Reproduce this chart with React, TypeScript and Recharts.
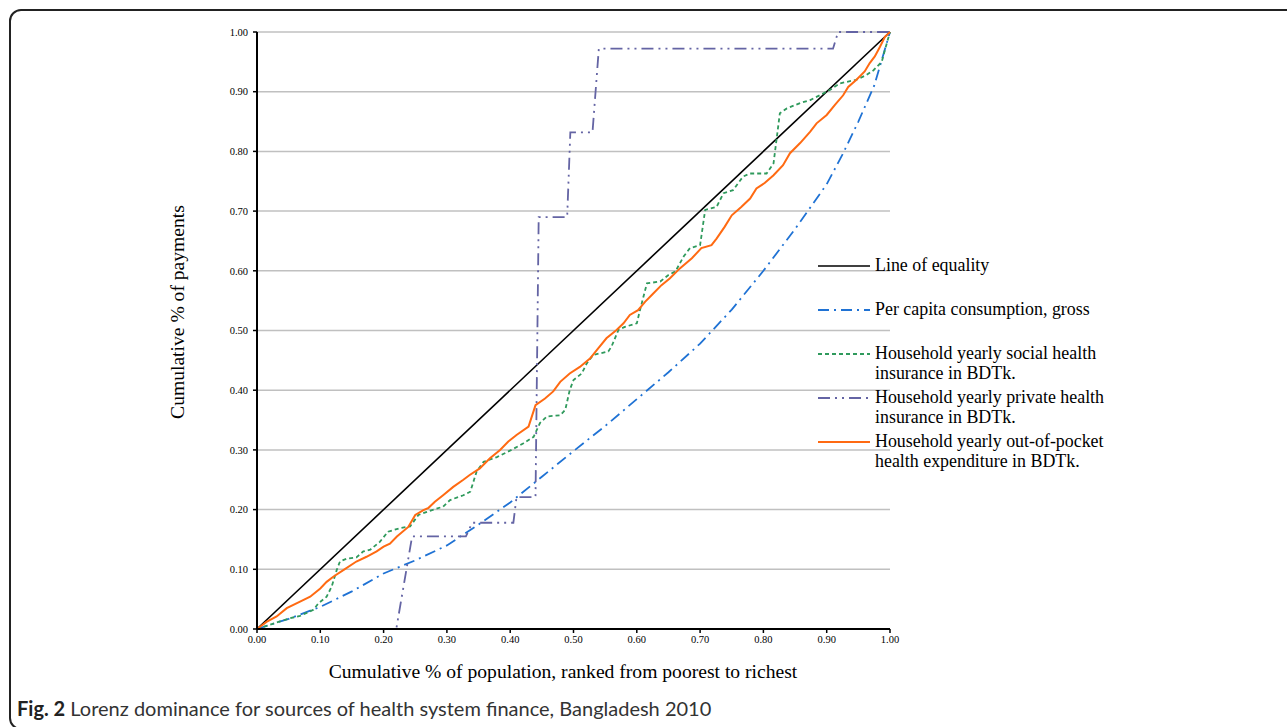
import React from 'react';
import { LineChart, Line, XAxis, YAxis, CartesianGrid } from 'recharts';

const axisTicks = [0, 0.1, 0.2, 0.3, 0.4, 0.5, 0.6, 0.7, 0.8, 0.9, 1.0];

const equalityX = [0, 1];
const equalityY = [0, 1];

const consumptionX = [0, 0.05, 0.1, 0.15, 0.2, 0.25, 0.3, 0.35, 0.4, 0.45, 0.5, 0.55, 0.6, 0.65, 0.7, 0.75, 0.8, 0.85, 0.9, 0.925, 0.95, 0.975, 1];
const consumptionY = [0, 0.017, 0.037, 0.063, 0.093, 0.115, 0.14, 0.175, 0.212, 0.255, 0.298, 0.34, 0.385, 0.43, 0.478, 0.535, 0.6, 0.67, 0.745, 0.795, 0.85, 0.91, 1];

const socialX = [0, 0.031, 0.052, 0.068, 0.089, 0.097, 0.11, 0.118, 0.126, 0.131, 0.142, 0.157, 0.168, 0.179, 0.194, 0.207, 0.226, 0.242, 0.255, 0.273, 0.294, 0.305, 0.326, 0.337, 0.347, 0.358, 0.379, 0.402, 0.421, 0.437, 0.447, 0.458, 0.479, 0.487, 0.494, 0.5, 0.513, 0.521, 0.531, 0.555, 0.56, 0.571, 0.581, 0.6, 0.605, 0.616, 0.637, 0.65, 0.661, 0.674, 0.684, 0.7, 0.708, 0.726, 0.737, 0.752, 0.768, 0.779, 0.805, 0.816, 0.826, 0.837, 0.858, 0.874, 0.889, 0.905, 0.921, 0.947, 0.963, 0.974, 0.987, 0.992, 1];
const socialY = [0, 0.011, 0.018, 0.022, 0.032, 0.043, 0.054, 0.071, 0.099, 0.113, 0.118, 0.12, 0.13, 0.133, 0.146, 0.163, 0.169, 0.172, 0.191, 0.198, 0.205, 0.216, 0.224, 0.23, 0.264, 0.28, 0.288, 0.3, 0.311, 0.322, 0.345, 0.356, 0.358, 0.367, 0.4, 0.417, 0.428, 0.445, 0.459, 0.465, 0.473, 0.501, 0.506, 0.512, 0.534, 0.579, 0.582, 0.593, 0.599, 0.624, 0.638, 0.643, 0.702, 0.707, 0.73, 0.735, 0.758, 0.763, 0.763, 0.78, 0.864, 0.872, 0.881, 0.886, 0.894, 0.903, 0.914, 0.92, 0.928, 0.936, 0.95, 0.97, 1];

const privateX = [0, 0.22, 0.245, 0.33, 0.34, 0.405, 0.41, 0.44, 0.445, 0.49, 0.495, 0.53, 0.54, 0.91, 0.918, 1];
const privateY = [0, 0, 0.155, 0.155, 0.178, 0.178, 0.221, 0.221, 0.69, 0.69, 0.832, 0.832, 0.972, 0.972, 1, 1];

const oopX = [0, 0.015, 0.031, 0.047, 0.068, 0.084, 0.1, 0.11, 0.121, 0.137, 0.157, 0.173, 0.189, 0.2, 0.21, 0.221, 0.239, 0.25, 0.263, 0.271, 0.281, 0.294, 0.31, 0.326, 0.336, 0.352, 0.368, 0.384, 0.397, 0.41, 0.429, 0.44, 0.455, 0.468, 0.479, 0.494, 0.51, 0.526, 0.539, 0.552, 0.568, 0.579, 0.589, 0.602, 0.613, 0.626, 0.639, 0.652, 0.668, 0.687, 0.702, 0.718, 0.726, 0.739, 0.75, 0.765, 0.779, 0.789, 0.802, 0.816, 0.831, 0.842, 0.858, 0.874, 0.884, 0.9, 0.913, 0.926, 0.934, 0.947, 0.96, 0.968, 0.976, 0.984, 0.992, 1];
const oopY = [0, 0.012, 0.021, 0.035, 0.046, 0.054, 0.068, 0.079, 0.088, 0.099, 0.113, 0.121, 0.13, 0.138, 0.143, 0.155, 0.171, 0.191, 0.199, 0.203, 0.213, 0.224, 0.238, 0.25, 0.258, 0.269, 0.286, 0.3, 0.314, 0.325, 0.339, 0.375, 0.386, 0.398, 0.414, 0.428, 0.439, 0.453, 0.47, 0.487, 0.501, 0.512, 0.526, 0.534, 0.548, 0.562, 0.576, 0.587, 0.604, 0.621, 0.638, 0.643, 0.654, 0.674, 0.693, 0.707, 0.721, 0.738, 0.747, 0.76, 0.777, 0.797, 0.814, 0.833, 0.847, 0.861, 0.878, 0.894, 0.908, 0.92, 0.934, 0.948, 0.959, 0.975, 0.992, 1];

const zip = (xs: number[], ys: number[]) => xs.map((x, i) => ({ x, y: ys[i] }));

const SERIF = '"Liberation Serif", "Times New Roman", serif';

const series = [
  { name: 'Line of equality', data: zip(equalityX, equalityY), color: '#000000', dash: undefined as string | undefined, width: 1.6, lines: ['Line of equality'] },
  { name: 'Per capita consumption, gross', data: zip(consumptionX, consumptionY), color: '#1f72d4', dash: '11 5 2 5', width: 1.8, lines: ['Per capita consumption, gross'] },
  { name: 'Household yearly social health insurance in BDTk.', data: zip(socialX, socialY), color: '#2f9a5c', dash: '4 3', width: 1.8, lines: ['Household yearly social health', 'insurance in BDTk.'] },
  { name: 'Household yearly private health insurance in BDTk.', data: zip(privateX, privateY), color: '#6464a4', dash: '12 5 2 5 2 5', width: 1.8, lines: ['Household yearly private health', 'insurance in BDTk.'] },
  { name: 'Household yearly out-of-pocket health expenditure in BDTk.', data: zip(oopX, oopY), color: '#ff6a12', dash: undefined, width: 2, lines: ['Household yearly out-of-pocket', 'health expenditure in BDTk.'] },
];

const legendTops = [266, 310, 354, 398, 442];

export default function App() {
  return (
    <div style={{ position: 'fixed', left: 0, top: 0, width: 1287, height: 727, overflow: 'hidden', background: '#fff' }}>
      <div style={{ position: 'absolute', left: 9, top: 9, width: 1300, height: 721, border: '2px solid #222', borderRadius: 12, boxSizing: 'border-box' }} />
      <div style={{ position: 'absolute', left: 0, top: 0 }}>
        <LineChart width={1287} height={727} margin={{ top: 32, right: 397, left: 0, bottom: 68 }}>
          <CartesianGrid vertical={false} stroke="#c0c0c0" strokeWidth={1.5} />
          <XAxis
            type="number"
            dataKey="x"
            domain={[0, 1]}
            ticks={axisTicks}
            allowDuplicatedCategory={false}
            tickFormatter={(v: number) => v.toFixed(2)}
            height={30}
            tickSize={4}
            tickMargin={3}
            axisLine={{ stroke: '#000', strokeWidth: 2 }}
            tickLine={{ stroke: '#000', strokeWidth: 1.5 }}
            tick={{ fill: '#000', fontSize: 10.5, fontFamily: SERIF }}
            label={{
              content: () => (
                <text x={563} y={678} textAnchor="middle" fontFamily={SERIF} fontSize={19.6} fill="#000">
                  Cumulative % of population, ranked from poorest to richest
                </text>
              ),
            }}
          />
          <YAxis
            type="number"
            dataKey="y"
            domain={[0, 1]}
            ticks={axisTicks}
            tickFormatter={(v: number) => v.toFixed(2)}
            width={257}
            tickSize={4}
            tickMargin={5}
            axisLine={{ stroke: '#000', strokeWidth: 2 }}
            tickLine={{ stroke: '#000', strokeWidth: 1.5 }}
            tick={{ fill: '#000', fontSize: 10.5, fontFamily: SERIF }}
            label={{
              content: () => (
                <text x={184} y={312} textAnchor="middle" transform="rotate(-90 184 312)" fontFamily={SERIF} fontSize={19.6} fill="#000">
                  Cumulative % of payments
                </text>
              ),
            }}
          />
          {series.map((s) => (
            <Line
              key={s.name}
              name={s.name}
              data={s.data}
              dataKey="y"
              type="linear"
              stroke={s.color}
              strokeWidth={s.width}
              strokeDasharray={s.dash}
              dot={false}
              activeDot={false}
              isAnimationActive={false}
            />
          ))}
        </LineChart>
      </div>
      {series.map((s, i) => (
        <div key={s.name} style={{ position: 'absolute', left: 818, top: legendTops[i] - 11, fontFamily: SERIF, fontSize: 17.9, lineHeight: '20px', color: '#000', whiteSpace: 'nowrap' }}>
          <svg width={54} height={20} style={{ position: 'absolute', left: 0, top: 0 }}>
            <line x1={0} x2={52} y1={11} y2={11} stroke={s.color} strokeWidth={s.width} strokeDasharray={s.dash} />
          </svg>
          <div style={{ marginLeft: 57 }}>
            {s.lines.map((l) => (
              <div key={l}>{l}</div>
            ))}
          </div>
        </div>
      ))}
      <div style={{ position: 'absolute', left: 17, top: 696, fontFamily: 'Lato, "Open Sans", sans-serif', fontSize: 20, color: '#333', whiteSpace: 'nowrap' }}>
        <b style={{ color: '#222' }}>Fig. 2</b> Lorenz dominance for sources of health system finance, Bangladesh 2010
      </div>
    </div>
  );
}
